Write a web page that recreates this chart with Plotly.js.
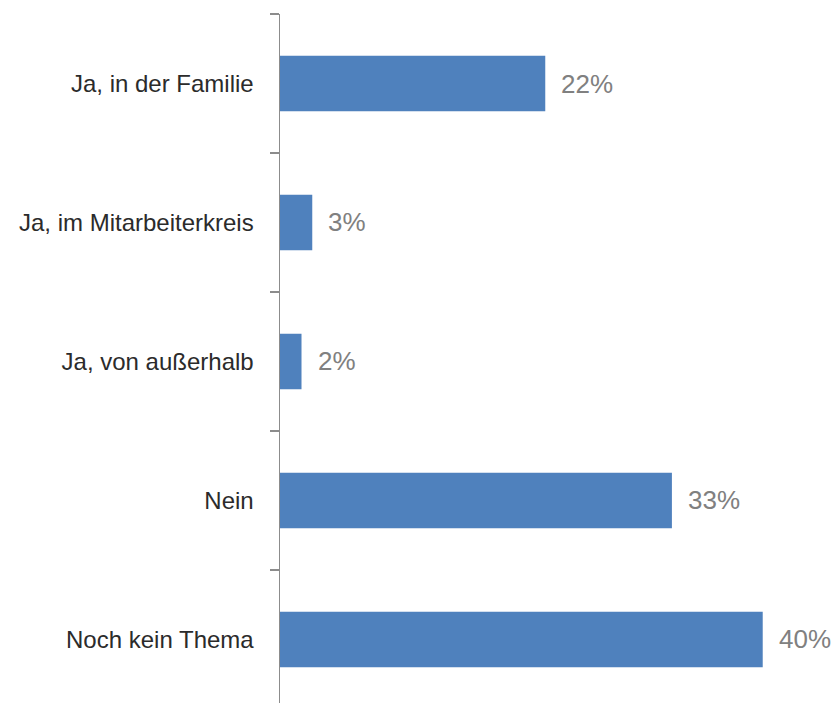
<!DOCTYPE html>
<html>
<head>
<meta charset="utf-8">
<script src="https://cdn.plot.ly/plotly-3.0.1.min.js"></script>
<style>html,body{margin:0;padding:0;background:#fff;}#chart{width:838px;height:703px;}</style>
</head>
<body>
<div id="chart"></div>
<script>
// Categories, top to bottom
const categories = ["Ja, in der Familie", "Ja, im Mitarbeiterkreis", "Ja, von außerhalb", "Nein", "Noch kein Thema"];
// Shares in percent
const values = [22.2, 2.7, 1.8, 32.8, 40.4];
// Value labels as printed
const valueLabels = ["22%", "3%", "2%", "33%", "40%"];

const trace = {
  type: "bar",
  orientation: "h",
  x: values,
  y: categories,
  marker: {color: "#4F81BD"},
  width: 0.4,
  hoverinfo: "none"
};

const annotations = categories.map((c, i) => ({
  x: values[i],
  y: c,
  xref: "x",
  yref: "y",
  text: valueLabels[i],
  showarrow: false,
  xanchor: "left",
  yanchor: "middle",
  xshift: 14,
  font: {family: "Liberation Sans, Arial, sans-serif", size: 26, color: "#808080"}
}));

const layout = {
  width: 838,
  height: 703,
  margin: {l: 280, r: 0, t: 14, b: 0},
  paper_bgcolor: "#ffffff",
  plot_bgcolor: "#ffffff",
  showlegend: false,
  xaxis: {
    range: [0, 46.7],
    visible: false,
    fixedrange: true
  },
  yaxis: {
    type: "category",
    categoryorder: "array",
    categoryarray: categories,
    range: [4.457, -0.5],
    showline: true,
    linecolor: "#8c8c8c",
    linewidth: 1.5,
    ticks: "outside",
    tickson: "boundaries",
    ticklen: 9,
    tickwidth: 1.5,
    tickcolor: "#8c8c8c",
    ticklabelstandoff: 20,
    showgrid: false,
    zeroline: false,
    tickfont: {family: "Liberation Sans, Arial, sans-serif", size: 24, color: "#2b2b2b"},
    fixedrange: true
  },
  annotations: annotations
};

Plotly.newPlot("chart", [trace], layout, {displayModeBar: false, staticPlot: true});
</script>
</body>
</html>
